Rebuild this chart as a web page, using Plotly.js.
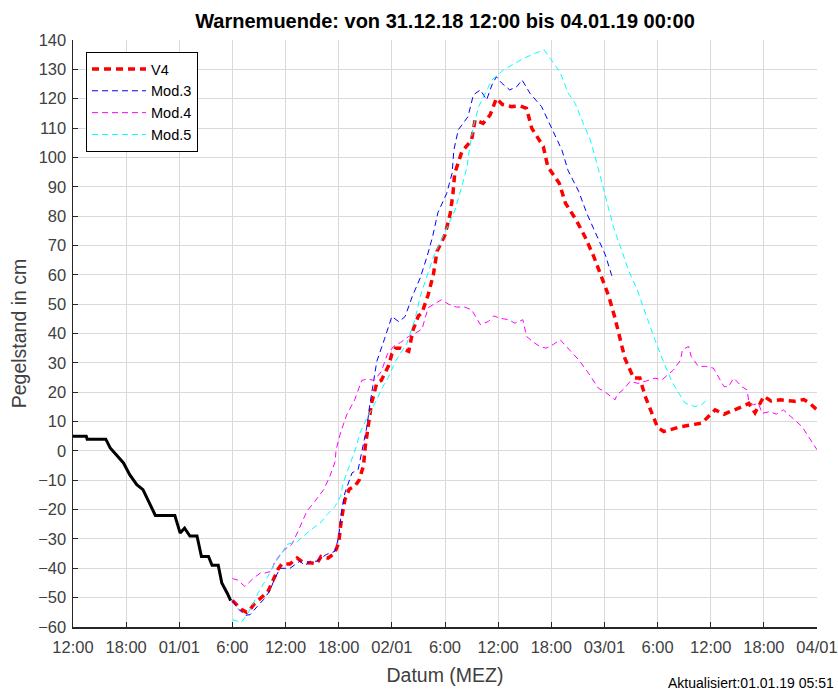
<!DOCTYPE html>
<html>
<head>
<meta charset="utf-8">
<script src="https://cdn.plot.ly/plotly-3.0.1.min.js"></script>
<style>html,body{margin:0;padding:0;background:#fff;}#chart{width:838px;height:693px;}</style>
</head>
<body>
<div id="chart"></div>
<script>
// x values: hours since 31.12.18 12:00
const tickHours = [0,6,12,18,24,30,36,42,48,54,60,66,72,78,84];
const tickLabels = ['12:00','18:00','01/01','6:00','12:00','18:00','02/01','6:00','12:00','18:00','03/01','6:00','12:00','18:00','04/01'];

const obsHours = [0,1.5,1.6,3.7,4.2,4.9,5.7,6.4,7.2,7.9,8.5,9.3,11.5,12.1,12.6,13.2,14,14.5,15.3,15.7,16.4,16.8,17.4,17.8];
const obsLevel = [5,5,4,4,1,-1.3,-4.1,-8.1,-11.5,-13.2,-16.9,-22,-22,-28,-26.3,-29,-29,-36,-36,-39,-39,-45,-48.4,-51];

const v4Hours = [18,18.5,19,19.6,20,20.5,21.3,22,22.6,23.2,23.6,24.5,25.3,26,27,27.5,28,28.8,29.5,30,30.3,30.7,31.2,31.8,32.3,32.8,33,33.4,33.7,34.3,34.8,35.6,36,36.4,37,37.9,38.4,39,39.4,40.1,40.7,41.1,42,42.6,42.9,43.1,43.9,45,45.4,46.3,47.1,47.8,48.5,49.5,50.5,51.2,51.8,53.1,53.6,54.9,55.6,56.8,57.8,58.8,59.7,60.5,61.2,61.7,62.3,63.3,64,64.6,65.4,66,66.7,68.7,71,72.5,73.5,74.4,75.5,76.3,77,78,78.8,79.9,81.5,82.5,83.2,84];
const v4Level = [-51,-52.5,-54,-55,-54,-52,-50,-48,-44,-40,-38.5,-38.5,-36.5,-38,-38.2,-38.5,-36,-36.5,-35,-31.4,-23.4,-16.6,-13,-12.1,-10,-5,1.5,8.9,16.2,23.1,24,28.8,33,35,35,33.9,41.3,46,47,53.2,60.3,68,73.6,81,87.8,94.6,101.9,105.9,112.8,111.6,114.5,120.1,118,117.3,117.5,116.7,109.9,103.7,96.9,91.2,84.4,78.7,73,66.2,59.4,52.6,45.2,38.4,31.6,24.8,24.8,18.6,12.3,8,6.6,8.3,9.5,14,12.5,13.5,15,16.2,13,18.6,17,17.4,16.9,17.5,16.2,14];

const mod3Hours = [18,18.7,19.5,20,20.8,21.5,22.2,22.8,23.4,24.5,25.6,26.2,26.8,27.5,28.6,29.6,30,30.3,30.7,31.5,32.2,32.6,33.2,33.5,33.9,34.3,35.2,36,36.8,37.5,38.3,39.2,40,40.6,41.2,42.2,42.8,43,43.5,44.6,45.2,46,46.7,47.3,47.8,48.4,49.3,50.1,50.7,51.6,52.9,54.1,55.2,55.9,57.1,58,59.1,60.1,60.8,61];
const mod3Level = [-51,-54,-56,-55.8,-53,-50.7,-47.8,-43.3,-40,-40,-37.6,-39,-37.6,-37.6,-35.3,-34.2,-29.1,-21.1,-14.3,-7.5,-6.3,0,8.5,15.5,22.8,30.5,38.4,45.8,44,45.8,52.6,58.9,66.5,73,81.2,87.8,94.6,102.5,109.4,113.9,121.3,123,119.6,124.7,127.5,125.3,123,124.1,126.4,121.8,117.3,109.4,102.5,95.5,88.4,81,73.6,66.8,60,58.3];

const mod4Hours = [18,18.6,19.4,20.4,21.2,21.7,22.4,22.8,23.9,24.7,25.4,26.4,27.3,28.3,29,29.6,29.7,30.2,30.9,31.8,32.6,33.2,34,34.8,35.5,36.2,37,37.9,38.6,39.4,40.1,40.8,41.6,42.4,43.3,44.2,45,46,46.9,47.5,48.2,49.2,49.9,50.8,51.2,52,52.7,53.4,54.2,55,56.1,57.1,58.2,59.3,60.1,61.2,61.4,62.3,62.9,63.8,64.6,65.7,66.5,67.8,68.6,68.8,69.5,69.8,70.6,71.4,72.3,73.1,73.5,74,74.6,75.5,76.1,76.3,76.8,77.4,77.8,78.7,79.4,80.2,81.2,82.3,82.9,84];
const mod4Level = [-43.5,-44,-46.2,-43.3,-41.5,-41.6,-41,-37.6,-33.6,-31.9,-27.4,-20.6,-17.2,-13.2,-8.7,-3.6,0.4,6.1,12.3,17.4,24,24.5,24,27,33,35.6,37,39,40,41.5,48.8,50,51.5,50,49,49,48.1,43,44.1,46,45.2,44.7,43.5,44.7,39,37,35.6,35,36.2,37.9,34.4,31,26.5,21.4,20,17.4,19,21.4,23.7,23,23.7,24.8,24.2,27.6,31,34.4,35.6,32.2,28.8,28.8,28.2,24.2,21.9,21.9,24.8,21.9,20.8,16.9,15.7,16.2,12.8,13.4,12.5,14,11.2,8.3,5.5,0.4];

const mod5Hours = [18,19,19.6,20.2,20.9,21.9,22.8,23.6,24.1,24.7,25.3,26,27.1,27.9,28.7,29.6,30.2,30.5,31.1,31.5,32,32.4,33.2,34.1,35,35.6,36.4,37.7,38.6,39.2,39.8,40.7,41.8,43.1,43.9,44.5,44.8,45.2,45.8,46.5,47.3,48.6,49.6,50.9,52.2,53.2,54.2,55,55.9,56.7,57.6,58.4,59.1,59.7,60.3,61,61.8,62.7,63.7,64.6,65.5,66.5,67.2,67.6,68.4,69.1,70.2,71,71.5];
const mod5Level = [-57.5,-58.4,-56,-53,-48.4,-43.3,-38.2,-34.8,-31.9,-31.4,-31,-29.1,-26.3,-24.6,-21.7,-18.9,-15.5,-10.9,-5.8,-3,1.5,6.1,11.2,16.3,22,25,30.5,36.7,44.7,52.6,58.3,66.2,73.3,81.8,90.1,96.9,103.7,110.5,117.3,121.8,126.4,129.8,131.5,133.8,135.5,136.6,132.4,129,122,118.4,111.6,106,98.5,91.2,84.4,76.4,69.6,61.7,54.9,46.9,39.5,31.6,26.2,23.7,19.7,16.3,15.1,15.7,17.4];

const FONT = 'Arial, "Liberation Sans", Helvetica, sans-serif';

const traces = [
  {x: obsHours, y: obsLevel, mode: 'lines', showlegend: false, hoverinfo: 'skip',
   line: {color: '#000000', width: 3}},
  {x: v4Hours, y: v4Level, mode: 'lines', name: 'V4',
   line: {color: '#ff0000', width: 3.5, dash: '7px,5px'}},
  {x: mod3Hours, y: mod3Level, mode: 'lines', name: 'Mod.3',
   line: {color: '#0000ff', width: 1, dash: '6px,4px'}},
  {x: mod4Hours, y: mod4Level, mode: 'lines', name: 'Mod.4',
   line: {color: '#ff00ff', width: 1, dash: '6px,4px'}},
  {x: mod5Hours, y: mod5Level, mode: 'lines', name: 'Mod.5',
   line: {color: '#00ffff', width: 1, dash: '6px,4px'}}
];

const layout = {
  width: 838, height: 693,
  margin: {l: 73, r: 21, t: 40, b: 66},
  paper_bgcolor: '#ffffff', plot_bgcolor: '#ffffff',
  font: {family: FONT, size: 16, color: '#333333'},
  title: {text: '<b>Warnemuende: von 31.12.18 12:00 bis 04.01.19 00:00</b>',
          font: {family: FONT, size: 20, color: '#000000'},
          x: 0.5, xref: 'paper', y: 1 - 21/693, yanchor: 'middle'},
  xaxis: {range: [0, 84], tickvals: tickHours, ticktext: tickLabels,
          showgrid: true, gridcolor: '#dadada', gridwidth: 1, zeroline: false,
          showline: true, linecolor: '#262626', linewidth: 1.5,
          ticks: 'inside', ticklen: 5, tickcolor: '#262626',
          ticklabelstandoff: 5,
          tickfont: {family: FONT, size: 16.5, color: '#404040'},
          title: {text: 'Datum (MEZ)', font: {family: FONT, size: 19.5, color: '#404040'}, standoff: 13}},
  yaxis: {range: [-60, 140], dtick: 10, tick0: 0,
          showgrid: true, gridcolor: '#dadada', gridwidth: 1, zeroline: false,
          showline: true, linecolor: '#262626', linewidth: 1.5,
          ticks: 'inside', ticklen: 5, tickcolor: '#262626',
          ticklabelstandoff: 2,
          tickfont: {family: FONT, size: 16.5, color: '#404040'},
          title: {text: 'Pegelstand in cm', font: {family: FONT, size: 19.5, color: '#404040'}, standoff: 6}},
  legend: {x: (86-73)/744, y: (627-52)/587, xanchor: 'left', yanchor: 'top',
           bgcolor: '#ffffff', bordercolor: '#000000', borderwidth: 1,
           itemwidth: 54,
           font: {family: FONT, size: 14.5, color: '#000000'}, tracegroupgap: 0},
  annotations: [{text: 'Aktualisiert:01.01.19 05:51', xref: 'paper', yref: 'paper',
                 x: (836-73)/744, y: (627-683)/587, xanchor: 'right', yanchor: 'middle',
                 showarrow: false, font: {family: FONT, size: 14, color: '#000000'}}],
  showlegend: true
};

Plotly.newPlot('chart', traces, layout, {staticPlot: true, displayModeBar: false});
</script>
</body>
</html>
